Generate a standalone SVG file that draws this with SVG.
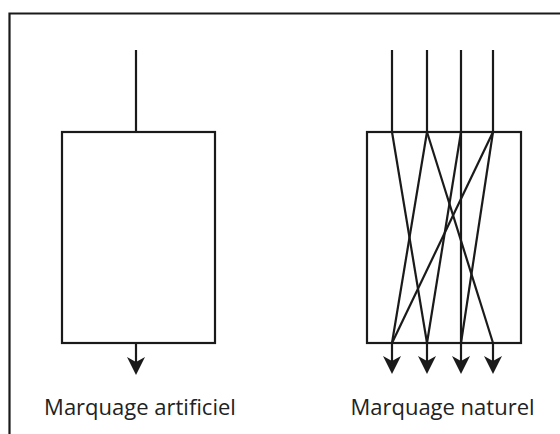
<svg xmlns="http://www.w3.org/2000/svg" width="560" height="434" viewBox="0 0 560 434">
<defs>
<style>
.ln{stroke:#1a1a1a;stroke-width:2.2;fill:none}
.box{stroke:#1a1a1a;stroke-width:2.2;fill:#fff}
.lbl{font-family:"Open Sans","Liberation Sans",sans-serif;font-size:22px;fill:#222;text-anchor:middle}
</style>
<path id="ah" d="M-9,-18 L0,-13 L9,-18 L0,0 Z" fill="#1a1a1a"/>
</defs>
<rect x="0" y="0" width="560" height="434" fill="#fff"/>
<path class="ln" d="M9.5,440 V13.5 H570"/>
<g id="artificiel">
<rect class="box" x="62" y="132" width="153" height="211"/>
<line class="ln" x1="136" y1="50" x2="136" y2="132"/>
<line class="ln" x1="136" y1="343" x2="136" y2="366"/>
<use href="#ah" x="136" y="375"/>
<text class="lbl" x="140" y="415">Marquage artificiel</text>
</g>
<g id="naturel">
<rect class="box" x="367" y="132" width="154" height="211"/>
<text class="lbl" x="442.5" y="415">Marquage naturel</text>
</g>
<g id="connectors">
<line class="ln" x1="392" y1="50" x2="392" y2="132"/>
<line class="ln" x1="427" y1="50" x2="427" y2="132"/>
<line class="ln" x1="461" y1="50" x2="461" y2="132"/>
<line class="ln" x1="493" y1="50" x2="493" y2="132"/>
<line class="ln" x1="392" y1="132" x2="427" y2="343"/>
<line class="ln" x1="427" y1="132" x2="392" y2="343"/>
<line class="ln" x1="427" y1="132" x2="493" y2="343"/>
<line class="ln" x1="461" y1="132" x2="461" y2="343"/>
<line class="ln" x1="461" y1="132" x2="427" y2="343"/>
<line class="ln" x1="493" y1="132" x2="392" y2="343"/>
<line class="ln" x1="493" y1="132" x2="461" y2="343"/>
<line class="ln" x1="392" y1="343" x2="392" y2="366"/>
<line class="ln" x1="427" y1="343" x2="427" y2="366"/>
<line class="ln" x1="461" y1="343" x2="461" y2="366"/>
<line class="ln" x1="493" y1="343" x2="493" y2="366"/>
<use href="#ah" x="392" y="374"/>
<use href="#ah" x="427" y="374"/>
<use href="#ah" x="461" y="374"/>
<use href="#ah" x="493" y="374"/>
</g>
</svg>
